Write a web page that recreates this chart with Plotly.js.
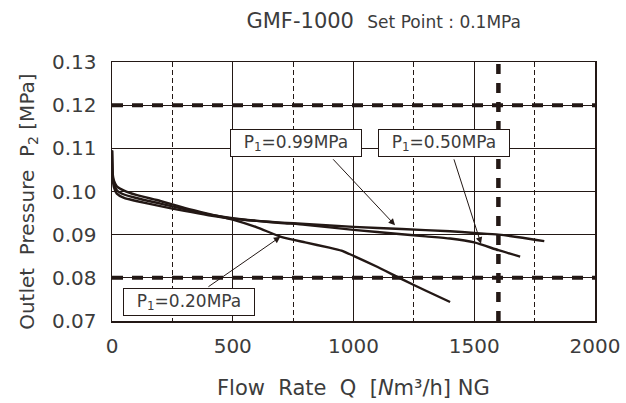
<!DOCTYPE html>
<html>
<head>
<meta charset="utf-8">
<script src="https://cdn.plot.ly/plotly-3.0.1.min.js"></script>
<style>html,body{margin:0;padding:0;background:#fff;}#chart{width:626px;height:403px;}</style>
</head>
<body>
<div id="chart"></div>
<script>
// Data
const seriesNames = ["P1=0.20MPa", "P1=0.50MPa", "P1=0.99MPa"];
const x020 = [0, 3, 8, 20, 50, 100, 200, 300, 400, 500, 600, 700, 800, 900, 950, 1000, 1100, 1200, 1300, 1400];
const y020 = [0.1095, 0.1040, 0.1025, 0.1012, 0.1002, 0.0992, 0.0978, 0.0962, 0.0948, 0.0935, 0.0917, 0.0895, 0.0882, 0.0870, 0.0863, 0.0851, 0.0825, 0.0797, 0.0770, 0.0744];
const x050 = [0, 3, 8, 20, 50, 100, 200, 300, 400, 500, 600, 700, 800, 1000, 1200, 1300, 1400, 1500, 1600, 1690];
const y050 = [0.1095, 0.1035, 0.1018, 0.1003, 0.0993, 0.0985, 0.0972, 0.0959, 0.0947, 0.0938, 0.0932, 0.0927, 0.0923, 0.0911, 0.0901, 0.0896, 0.0891, 0.0882, 0.0864, 0.0849];
const x099 = [0, 3, 8, 20, 50, 100, 200, 300, 400, 500, 600, 700, 800, 1000, 1200, 1400, 1500, 1600, 1700, 1790];
const y099 = [0.1095, 0.1030, 0.1010, 0.0995, 0.0985, 0.0978, 0.0966, 0.0955, 0.0945, 0.0937, 0.0932, 0.0928, 0.0925, 0.0918, 0.0913, 0.0908, 0.0904, 0.0900, 0.0893, 0.0885];

// Reference (limit) lines
const limitPressures = [0.08, 0.12];
const limitFlows = [1600];

// Labels
const labelTexts = ["P<sub>1</sub>=0.20MPa", "P<sub>1</sub>=0.50MPa", "P<sub>1</sub>=0.99MPa"];
const labelX = [320, 1375, 760];
const labelY = [0.0745, 0.1112, 0.1112];
const arrowTailX = [393, 1414, 910];
const arrowTailY = [0.0777, 0.1078, 0.1078];
const arrowTipX = [697, 1528, 1172];
const arrowTipY = [0.0895, 0.0879, 0.0922];

const ink = '#231815';
const txt = '#3c3c3c';
const font = '"DejaVu Sans", "Noto Sans", sans-serif';

const traces = [[x020, y020], [x050, y050], [x099, y099]].map((d, i) => ({
  x: d[0], y: d[1], type: 'scatter', mode: 'lines', name: seriesNames[i],
  line: {color: ink, width: 2.4, shape: 'spline', smoothing: 0.6},
  hoverinfo: 'skip'
}));

const shapes = [];
limitPressures.forEach(v => shapes.push({type: 'line', xref: 'paper', x0: 0, x1: 1, yref: 'y', y0: v, y1: v,
  line: {color: ink, width: 4, dash: '11px,9px'}, layer: 'above'}));
limitFlows.forEach(v => shapes.push({type: 'line', yref: 'paper', y0: 0, y1: 1, xref: 'x', x0: v, x1: v,
  line: {color: ink, width: 4.5, dash: '10px,9px'}, layer: 'above'}));

const annotations = [];
labelTexts.forEach((t, i) => {
  annotations.push({x: labelX[i], y: labelY[i], xref: 'x', yref: 'y', text: t, showarrow: false,
    font: {family: font, size: 17, color: txt}, bgcolor: '#ffffff', bordercolor: ink, borderwidth: 1,
    borderpad: 3, width: 124, height: 20});
  annotations.push({x: arrowTipX[i], y: arrowTipY[i], ax: arrowTailX[i], ay: arrowTailY[i],
    xref: 'x', yref: 'y', axref: 'x', ayref: 'y', text: '', showarrow: true,
    arrowhead: 2, arrowsize: 1.3, arrowwidth: 1, arrowcolor: ink});
});
annotations.push({xref: 'paper', yref: 'paper', x: -0.174, y: 0.46, xanchor: 'center', yanchor: 'middle',
  text: 'Outlet  Pressure  P<sub>2</sub> [MPa]', textangle: -90, showarrow: false,
  font: {family: font, size: 20, color: txt}});
annotations.push({xref: 'paper', yref: 'paper', x: 0.5, y: -0.26, xanchor: 'center', yanchor: 'middle',
  text: 'Flow  Rate  Q  [<i>N</i>m³/h] NG', showarrow: false,
  font: {family: font, size: 21, color: txt}});

const layout = {
  width: 626, height: 403,
  margin: {l: 112, r: 31, t: 62, b: 82},
  paper_bgcolor: '#ffffff', plot_bgcolor: '#ffffff',
  showlegend: false,
  title: {text: 'GMF-1000  <span style="font-size:17px">Set Point : 0.1MPa</span>',
    font: {family: font, size: 21, color: txt}, x: 0.613, xanchor: 'center', xref: 'container',
    y: 0.95, yanchor: 'middle', yref: 'container'},
  xaxis: {range: [0, 2000], tickvals: [0, 500, 1000, 1500, 2000], ticktext: ['0', '500', '1000', '1500', '2000'],
    showgrid: true, gridcolor: ink, gridwidth: 1, zeroline: false,
    showline: true, linecolor: ink, linewidth: 1.5, mirror: true, ticks: '',
    minor: {tickvals: [250, 750, 1250, 1750], showgrid: true, gridcolor: ink, gridwidth: 1, griddash: '5px,3px'},
    tickfont: {family: font, size: 20, color: txt}, ticklabelstandoff: 6},
  yaxis: {range: [0.07, 0.13], tickvals: [0.07, 0.08, 0.09, 0.10, 0.11, 0.12, 0.13],
    ticktext: ['0.07', '0.08', '0.09', '0.10', '0.11', '0.12', '0.13'],
    showgrid: true, gridcolor: ink, gridwidth: 1, zeroline: false,
    showline: true, linecolor: ink, linewidth: 1.5, mirror: true, ticks: '',
    tickfont: {family: font, size: 20, color: txt}, ticklabelstandoff: 10},
  shapes: shapes,
  annotations: annotations
};

Plotly.newPlot('chart', traces, layout, {staticPlot: true, displayModeBar: false});
</script>
</body>
</html>
